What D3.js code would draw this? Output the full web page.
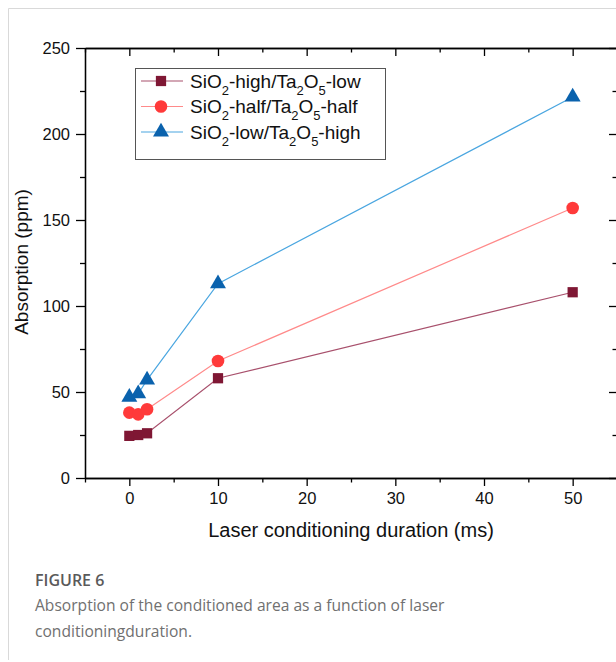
<!DOCTYPE html>
<html>
<head>
<meta charset="utf-8">
<script src="https://cdn.jsdelivr.net/npm/d3@7"></script>
<style>
  body { margin: 0; background: #fff; }
  svg { display: block; }
</style>
</head>
<body>
<div id="chart"></div>
<script>
// data
const durations = [0, 1, 2, 10, 50];
const highLow = [24.5, 25, 26, 58, 108];
const halfHalf = [38, 37, 40, 68, 157];
const lowHigh = [47, 49, 57, 113, 221.5];
const xTicks = [0, 10, 20, 30, 40, 50];
const yTicks = [0, 50, 100, 150, 200, 250];

const series = [
  { name: ["SiO", "2", "-high/Ta", "2", "O", "5", "-low"], values: highLow, marker: "square", fill: "#7f1734", line: "#a8506c" },
  { name: ["SiO", "2", "-half/Ta", "2", "O", "5", "-half"], values: halfHalf, marker: "circle", fill: "#ff3a3a", line: "#ff8a8a" },
  { name: ["SiO", "2", "-low/Ta", "2", "O", "5", "-high"], values: lowHigh, marker: "triangle", fill: "#0a62ad", line: "#4aa6e0" }
];

const width = 616, height = 662;
const svg = d3.select("#chart").append("svg")
  .attr("width", width)
  .attr("height", height);

// frame around the figure
svg.append("path")
  .attr("d", "M8.5 660 L8.5 8.5 L616 8.5")
  .attr("fill", "none")
  .attr("stroke", "#d9d9d9");

const plot = { left: 85, right: 617, top: 48, bottom: 478 };
const x = d3.scaleLinear().domain([-5, 55]).range([plot.left, plot.right]);
const y = d3.scaleLinear().domain([0, 250]).range([plot.bottom, plot.top]);

const font = "'Liberation Sans', Arial, sans-serif";

// axes: major ticks + minor ticks
function styleAxis(g) {
  g.selectAll("path.domain").attr("stroke", "#000").attr("stroke-width", 1.3);
  g.selectAll("line").attr("stroke", "#000").attr("stroke-width", 1.3);
  g.selectAll("text").attr("font-family", font).attr("font-size", 16.5).attr("fill", "#111");
}

const xMinor = d3.range(-5, 56, 5).filter(v => !xTicks.includes(v));
const yMinor = d3.range(25, 250, 50);

// bottom
svg.append("g").attr("transform", `translate(0,${plot.bottom})`)
  .call(d3.axisBottom(x).tickValues(xTicks).tickSize(8).tickSizeOuter(0).tickPadding(6))
  .call(styleAxis);
svg.append("g").attr("transform", `translate(0,${plot.bottom})`)
  .call(d3.axisBottom(x).tickValues(xMinor).tickSize(4.5).tickSizeOuter(0).tickFormat(""))
  .call(styleAxis);
// top (inward)
svg.append("g").attr("transform", `translate(0,${plot.top})`)
  .call(d3.axisBottom(x).tickValues(xTicks).tickSize(8).tickSizeOuter(0).tickFormat(""))
  .call(styleAxis);
svg.append("g").attr("transform", `translate(0,${plot.top})`)
  .call(d3.axisBottom(x).tickValues(xMinor).tickSize(4.5).tickSizeOuter(0).tickFormat(""))
  .call(styleAxis);
// left
svg.append("g").attr("transform", `translate(${plot.left},0)`)
  .call(d3.axisLeft(y).tickValues(yTicks).tickSize(9).tickSizeOuter(0).tickPadding(6))
  .call(styleAxis);
svg.append("g").attr("transform", `translate(${plot.left},0)`)
  .call(d3.axisLeft(y).tickValues(yMinor).tickSize(5).tickSizeOuter(0).tickFormat(""))
  .call(styleAxis);
// right (inward)
svg.append("g").attr("transform", `translate(${plot.right},0)`)
  .call(d3.axisLeft(y).tickValues(yTicks).tickSize(8).tickSizeOuter(0).tickFormat(""))
  .call(styleAxis);
svg.append("g").attr("transform", `translate(${plot.right},0)`)
  .call(d3.axisLeft(y).tickValues(yMinor).tickSize(4.5).tickSizeOuter(0).tickFormat(""))
  .call(styleAxis);

// axis titles
svg.append("text")
  .attr("x", 351)
  .attr("y", 537)
  .attr("text-anchor", "middle")
  .attr("font-family", font)
  .attr("font-size", 20)
  .attr("fill", "#111")
  .text("Laser conditioning duration (ms)");

svg.append("text")
  .attr("transform", `translate(28,${y(125) - 1}) rotate(-90)`)
  .attr("text-anchor", "middle")
  .attr("font-family", font)
  .attr("font-size", 19)
  .attr("fill", "#111")
  .text("Absorption (ppm)");

// markers
const symbolType = { square: d3.symbolSquare, circle: d3.symbolCircle, triangle: d3.symbolTriangle };
const symbolSize = { square: 105, circle: 125, triangle: 110 };

const line = d3.line().x(d => x(d[0])).y(d => y(d[1]));

series.forEach(s => {
  const pts = d3.zip(durations, s.values);
  svg.append("path")
    .attr("d", line(pts))
    .attr("fill", "none")
    .attr("stroke", s.line)
    .attr("stroke-width", 1.2);
  svg.append("g").selectAll("path")
    .data(pts)
    .join("path")
    .attr("transform", d => `translate(${x(d[0])},${y(d[1])})`)
    .attr("d", d3.symbol(symbolType[s.marker], symbolSize[s.marker]))
    .attr("fill", s.fill);
});

// legend
const legend = svg.append("g").attr("transform", "translate(135,68)");
legend.append("rect")
  .attr("x", 0.5).attr("y", 0.5)
  .attr("width", 250).attr("height", 91)
  .attr("fill", "#fff")
  .attr("stroke", "#555")
  .attr("stroke-width", 1);

series.forEach((s, i) => {
  const cy = 13 + i * 25.5;
  const g = legend.append("g").attr("transform", `translate(0,${cy})`);
  g.append("line")
    .attr("x1", 6).attr("x2", 48)
    .attr("stroke", s.line).attr("stroke-width", 1.2);
  g.append("path")
    .attr("transform", "translate(26,0)")
    .attr("d", d3.symbol(symbolType[s.marker], symbolSize[s.marker])())
    .attr("fill", s.fill);
  const t = g.append("text")
    .attr("x", 55).attr("y", 6.5)
    .attr("font-family", font)
    .attr("font-size", 19)
    .attr("fill", "#111");
  s.name.forEach((part, j) => {
    const sub = j % 2 === 1;
    t.append("tspan")
      .attr("font-size", sub ? 13 : 19)
      .attr("dy", sub ? 7 : (j === 0 ? 0 : -7))
      .text(part);
  });
});

// caption
const capFont = "'Open Sans', 'Noto Sans', sans-serif";
svg.append("text")
  .attr("x", 35).attr("y", 586)
  .attr("font-family", capFont)
  .attr("font-size", 16)
  .attr("font-weight", 600)
  .attr("fill", "#5a5a5a")
  .text("FIGURE 6");
svg.append("text")
  .attr("x", 35).attr("y", 611)
  .attr("font-family", capFont)
  .attr("font-size", 15.6)
  .attr("fill", "#707070")
  .text("Absorption of the conditioned area as a function of laser");
svg.append("text")
  .attr("x", 35).attr("y", 637)
  .attr("font-family", capFont)
  .attr("font-size", 15.6)
  .attr("fill", "#707070")
  .text("conditioningduration.");
</script>
</body>
</html>
